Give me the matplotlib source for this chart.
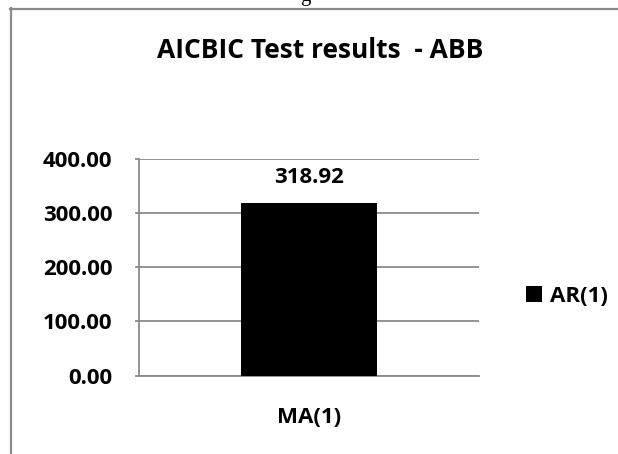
import matplotlib
matplotlib.use("Agg")
import matplotlib.pyplot as plt
from matplotlib.lines import Line2D

categories = ["MA(1)"]
series_name = "AR(1)"
values = [318.92]
yticks = [0, 100, 200, 300, 400]
ytick_labels = ["0.00", "100.00", "200.00", "300.00", "400.00"]
title = "AICBIC Test results  - ABB"

W, H = 618, 454
DPI = 100
plt.rcParams['font.family'] = ['Open Sans', 'DejaVu Sans']
fig = plt.figure(figsize=(W / DPI, H / DPI), dpi=DPI)
fig.patch.set_facecolor('white')

def fx(px):
    return px / W

def fy(py):
    return 1 - py / H

gray = '#8a8a8a'
# outer chart border (left and top)
fig.add_artist(Line2D([fx(10.5), fx(10.5)], [fy(8), fy(H + 2)], color=gray, lw=1.6))
fig.add_artist(Line2D([fx(10), fx(W + 2)], [fy(8.5), fy(8.5)], color=gray, lw=1.6))

# fragment of caption above
fig.text(fx(305), fy(0.5), "g", family='Liberation Serif', fontsize=15,
         ha='center', va='baseline', color='black')

left, right, top, bottom = 139, 479, 159, 375.5
ax = fig.add_axes([fx(left), fy(bottom), (right - left) / W, (bottom - top) / H])
x = list(range(len(categories)))
bars = ax.bar(x, values, width=0.4, color='black', label=series_name, zorder=3)
ax.set_xlim(-0.5, len(categories) - 0.5)
ax.set_ylim(0, 400)
ax.set_yticks(yticks)
ax.set_yticklabels(ytick_labels)
ax.set_xticks(x)
ax.set_xticklabels(categories)
for s in ['top', 'right']:
    ax.spines[s].set_visible(False)
for s in ['left', 'bottom']:
    ax.spines[s].set_color(gray)
    ax.spines[s].set_linewidth(1.3)
ax.yaxis.grid(True, color=gray, lw=1.3, zorder=0)
ax.set_axisbelow(True)
ax.tick_params(axis='y', length=3, color=gray, width=1.3, pad=16, labelsize=16)
ax.tick_params(axis='x', length=0, pad=23, labelsize=16)
for lbl in ax.get_yticklabels() + ax.get_xticklabels():
    lbl.set_fontweight('bold')

for xi, v in zip(x, values):
    ax.annotate(f"{v:.2f}", xy=(xi, v), xytext=(0, 14.4), textcoords='offset points',
                ha='center', va='baseline', fontsize=16, fontweight='bold')

fig.text(fx(320.5), fy(58), title, ha='center', va='baseline',
         fontsize=19, fontweight='bold')

leg = fig.legend(handles=[bars], labels=[series_name], loc='center left',
                 bbox_to_anchor=(fx(506), fy(296)), frameon=False,
                 handlelength=0.7, handleheight=0.7, handletextpad=0.4,
                 prop={'size': 16, 'weight': 'bold'})

fig.savefig("out.png", dpi=DPI, facecolor='white')
